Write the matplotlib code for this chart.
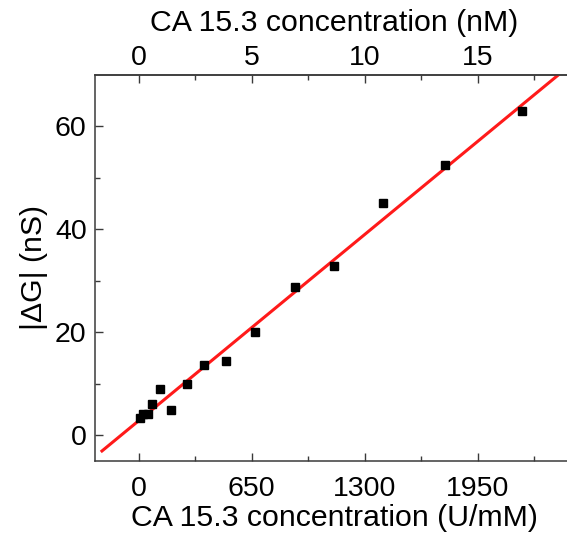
import numpy as np
import matplotlib
matplotlib.use("Agg")
import matplotlib.pyplot as plt

plt.rcParams['font.family'] = ['Liberation Sans', 'DejaVu Sans']

# CA 15.3 concentration (U/mM) and |dG| (nS)
conc_u = [10, 25, 54, 79, 121, 184, 278, 376, 500, 671, 898, 1122, 1406, 1761, 2202]
dG = [3.4, 4.2, 4.2, 6.0, 8.9, 4.9, 10.0, 13.6, 14.4, 20.0, 28.8, 32.8, 45.0, 52.4, 62.9]
u_per_nM = 130.0
xticks_bottom = [0, 650, 1300, 1950]
xticks_top = [0, 5, 10, 15]
yticks = [0, 20, 40, 60]

W, H = 567, 535
fig = plt.figure(figsize=(W / 100, H / 100), dpi=100)
left_px, right_px, top_px, bot_px = 95, 573.5, 74.7, 461
ax = fig.add_axes([left_px / W, 1 - bot_px / H, (right_px - left_px) / W, (bot_px - top_px) / H])

x = np.array(conc_u, dtype=float)
y = np.array(dG, dtype=float)
slope, intercept = np.polyfit(x, y, 1)
xf = np.array([-210, 2600])
ax.plot(xf, slope * xf + intercept, color='#ff1a1a', lw=2.2, zorder=2)
ax.plot(x, y, 's', color='black', ms=6.3, zorder=3)

ax.set_xlim(-250, 2500)
ax.set_ylim(-5, 70)
ax.set_xticks(xticks_bottom)
ax.set_xticks([325, 975, 1625, 2275], minor=True)
ax.set_yticks(yticks)
ax.set_yticks([10, 30, 50], minor=True)

fs_tick = 20.5
fs_lab = 21.8
spine_col = '#3a3a3a'
for s in ax.spines.values():
    s.set_color(spine_col)
    s.set_linewidth(1.1)

ax.tick_params(which='both', direction='in', colors=spine_col, labelcolor='black', labelsize=fs_tick, right=False, top=False)
ax.tick_params(which='major', length=6, width=1.0, pad=6)
ax.tick_params(axis='x', which='major', pad=11)
ax.tick_params(which='minor', length=3.5, width=1.0)

ax.set_xlabel('CA 15.3 concentration (U/mM)', fontsize=fs_lab, labelpad=1)
ax.set_ylabel('|ΔG| (nS)', fontsize=fs_lab, labelpad=5)

sec = ax.secondary_xaxis('top', functions=(lambda v: v / u_per_nM, lambda v: v * u_per_nM))
sec.set_xticks(xticks_top)
sec.set_xticks([2.5, 7.5, 12.5, 17.5], minor=True)
sec.tick_params(which='both', direction='in', colors=spine_col, labelcolor='black', labelsize=fs_tick)
sec.tick_params(which='major', length=6, width=1.0, pad=3)
sec.tick_params(which='minor', length=3.5, width=1.0)
sec.spines['top'].set_color(spine_col)
sec.spines['top'].set_linewidth(1.1)
sec.set_xlabel('CA 15.3 concentration (nM)', fontsize=fs_lab, labelpad=10)

fig.savefig('out.png', dpi=100)
